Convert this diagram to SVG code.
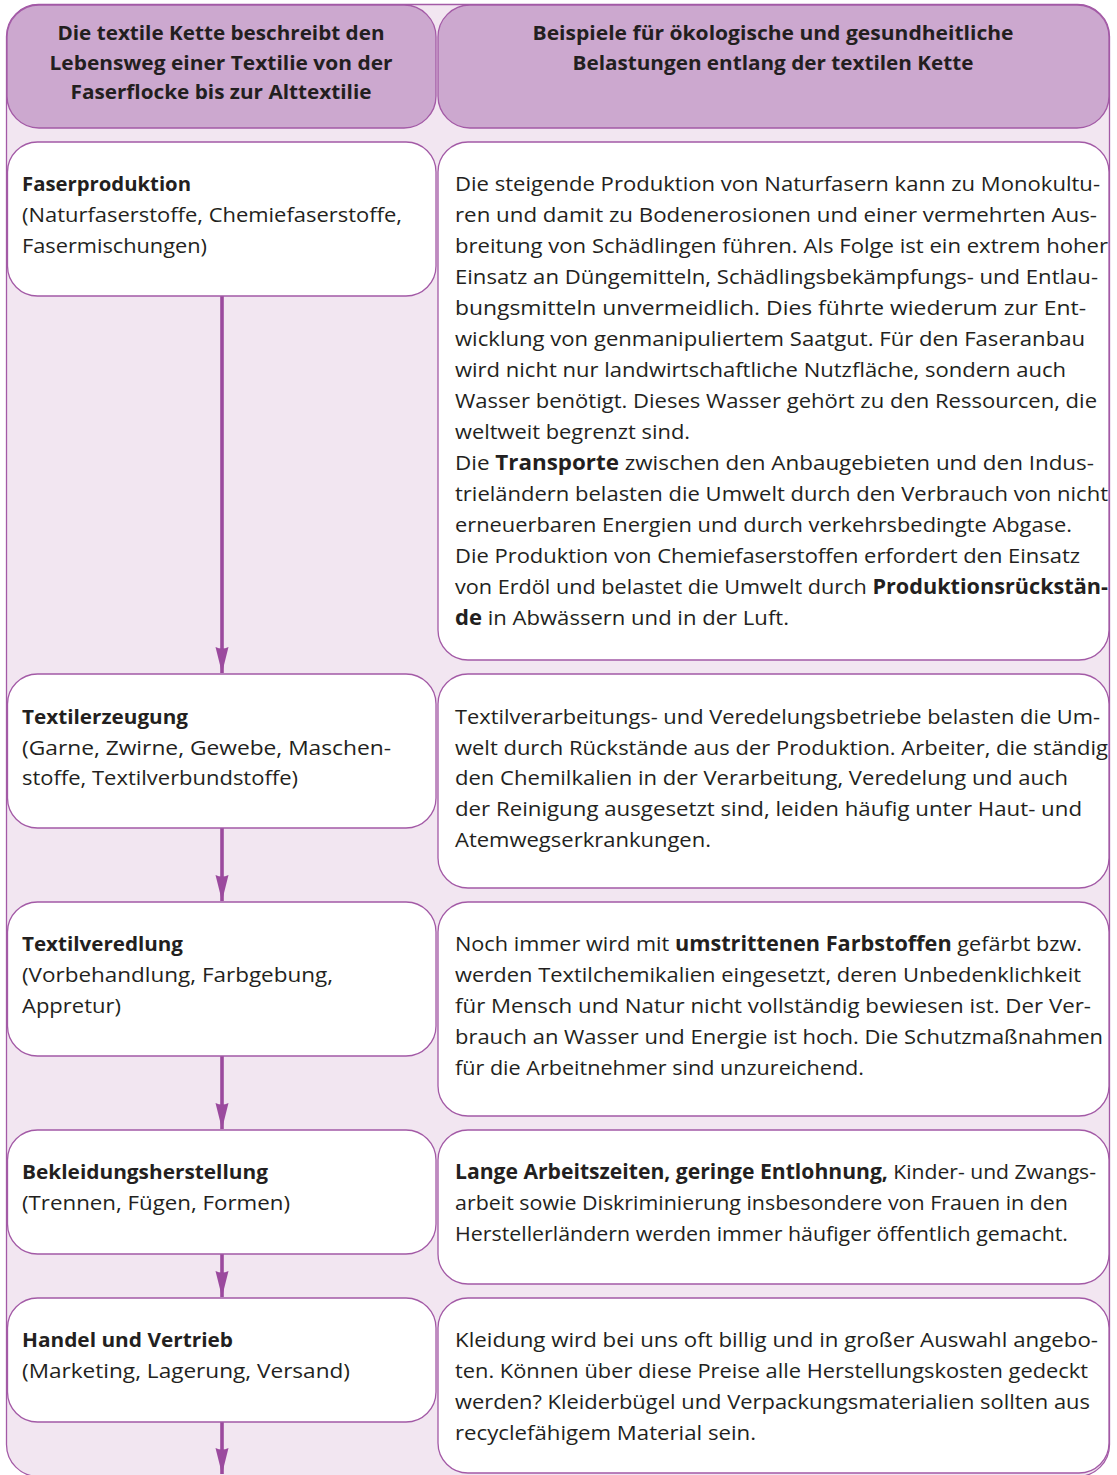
<svg xmlns="http://www.w3.org/2000/svg" width="1117" height="1475" viewBox="0 0 1117 1475">
<style>
.bg{fill:#f2e6f1;stroke:#a35aa6;stroke-width:1.3}
.hd{fill:#cca8cf;stroke:#a35aa6;stroke-width:1.3}
.bx{fill:#ffffff;stroke:#a35aa6;stroke-width:1.3}
text{font-family:"Open Sans","Noto Sans","Liberation Sans",sans-serif;fill:#231f20}
.h{font-size:20px;font-weight:bold;text-anchor:middle}
.l{font-size:20px}
.r{font-size:20.5px}
.b{font-weight:bold}
.arr{stroke:#9b4a9e;stroke-width:3.6;fill:none}
</style>
<defs>
<marker id="ah" markerUnits="userSpaceOnUse" markerWidth="28" markerHeight="16" viewBox="0 0 28 16" refX="27" refY="8" orient="auto">
<path d="M1,1.5 Q4,8 1,14.5 L27,8 Z" fill="#9b4a9e"/>
</marker>
</defs>
<rect class="bg" x="6.5" y="4.5" width="1103" height="1472" rx="32"/>

<g id="header-left">
<rect class="hd" x="7" y="5" width="429" height="123" rx="32"/>
<text class="h" x="221" y="40" textLength="327" lengthAdjust="spacingAndGlyphs">Die textile Kette beschreibt den</text>
<text class="h" x="221" y="70" textLength="343" lengthAdjust="spacingAndGlyphs">Lebensweg einer Textilie von der</text>
<text class="h" x="221" y="99" textLength="301" lengthAdjust="spacingAndGlyphs">Faserflocke bis zur Alttextilie</text>
</g>
<g id="header-right">
<rect class="hd" x="438" y="5" width="671" height="123" rx="32"/>
<text class="h" x="773" y="40" textLength="481" lengthAdjust="spacingAndGlyphs">Beispiele für ökologische und gesundheitliche</text>
<text class="h" x="773" y="70" textLength="401" lengthAdjust="spacingAndGlyphs">Belastungen entlang der textilen Kette</text>
</g>

<g id="connectors">
<line class="arr" x1="222" y1="296" x2="222" y2="673" marker-end="url(#ah)"/>
<line class="arr" x1="222" y1="828" x2="222" y2="901" marker-end="url(#ah)"/>
<line class="arr" x1="222" y1="1056" x2="222" y2="1129" marker-end="url(#ah)"/>
<line class="arr" x1="222" y1="1254" x2="222" y2="1297" marker-end="url(#ah)"/>
<line class="arr" x1="222" y1="1422" x2="222" y2="1474" marker-end="url(#ah)"/>
</g>

<g id="stage-faserproduktion">
<rect class="bx" x="7.5" y="142" width="428.5" height="154" rx="30"/>
<text class="l b" x="22" y="191" textLength="169" lengthAdjust="spacingAndGlyphs">Faserproduktion</text>
<text class="l" x="22" y="222" textLength="380" lengthAdjust="spacingAndGlyphs">(Naturfaserstoffe, Chemiefaserstoffe,</text>
<text class="l" x="22" y="253" textLength="185" lengthAdjust="spacingAndGlyphs">Fasermischungen)</text>
</g>
<g id="effects-faserproduktion">
<rect class="bx" x="438" y="142" width="671" height="518" rx="30"/>
<text class="r" x="455" y="191" textLength="645" lengthAdjust="spacingAndGlyphs">Die steigende Produktion von Naturfasern kann zu Monokultu-</text>
<text class="r" x="455" y="222" textLength="642" lengthAdjust="spacingAndGlyphs">ren und damit zu Bodenerosionen und einer vermehrten Aus-</text>
<text class="r" x="455" y="253" textLength="653" lengthAdjust="spacingAndGlyphs">breitung von Schädlingen führen. Als Folge ist ein extrem hoher</text>
<text class="r" x="455" y="284" textLength="643" lengthAdjust="spacingAndGlyphs">Einsatz an Düngemitteln, Schädlingsbekämpfungs- und Entlau-</text>
<text class="r" x="455" y="315" textLength="631" lengthAdjust="spacingAndGlyphs">bungsmitteln unvermeidlich. Dies führte wiederum zur Ent-</text>
<text class="r" x="455" y="346" textLength="630" lengthAdjust="spacingAndGlyphs">wicklung von genmanipuliertem Saatgut. Für den Faseranbau</text>
<text class="r" x="455" y="377" textLength="611" lengthAdjust="spacingAndGlyphs">wird nicht nur landwirtschaftliche Nutzfläche, sondern auch</text>
<text class="r" x="455" y="408" textLength="642" lengthAdjust="spacingAndGlyphs">Wasser benötigt. Dieses Wasser gehört zu den Ressourcen, die</text>
<text class="r" x="455" y="439" textLength="235" lengthAdjust="spacingAndGlyphs">weltweit begrenzt sind.</text>
<text class="r" x="455" y="470" textLength="639" lengthAdjust="spacingAndGlyphs">Die <tspan class="b">Transporte</tspan> zwischen den Anbaugebieten und den Indus-</text>
<text class="r" x="455" y="501" textLength="653" lengthAdjust="spacingAndGlyphs">trieländern belasten die Umwelt durch den Verbrauch von nicht</text>
<text class="r" x="455" y="532" textLength="617" lengthAdjust="spacingAndGlyphs">erneuerbaren Energien und durch verkehrsbedingte Abgase.</text>
<text class="r" x="455" y="563" textLength="625" lengthAdjust="spacingAndGlyphs">Die Produktion von Chemiefaserstoffen erfordert den Einsatz</text>
<text class="r" x="455" y="594" textLength="653" lengthAdjust="spacingAndGlyphs">von Erdöl und belastet die Umwelt durch <tspan class="b">Produktionsrückstän-</tspan></text>
<text class="r" x="455" y="625" textLength="334" lengthAdjust="spacingAndGlyphs"><tspan class="b">de</tspan> in Abwässern und in der Luft.</text>
</g>

<g id="stage-textilerzeugung">
<rect class="bx" x="7.5" y="674" width="428.5" height="154" rx="30"/>
<text class="l b" x="22" y="724" textLength="166" lengthAdjust="spacingAndGlyphs">Textilerzeugung</text>
<text class="l" x="22" y="755" textLength="369" lengthAdjust="spacingAndGlyphs">(Garne, Zwirne, Gewebe, Maschen-</text>
<text class="l" x="22" y="785" textLength="276" lengthAdjust="spacingAndGlyphs">stoffe, Textilverbundstoffe)</text>
</g>
<g id="effects-textilerzeugung">
<rect class="bx" x="438" y="674" width="671" height="214" rx="30"/>
<text class="r" x="455" y="724" textLength="645" lengthAdjust="spacingAndGlyphs">Textilverarbeitungs- und Veredelungsbetriebe belasten die Um-</text>
<text class="r" x="455" y="755" textLength="653" lengthAdjust="spacingAndGlyphs">welt durch Rückstände aus der Produktion. Arbeiter, die ständig</text>
<text class="r" x="455" y="785" textLength="613" lengthAdjust="spacingAndGlyphs">den Chemilkalien in der Verarbeitung, Veredelung und auch</text>
<text class="r" x="455" y="816" textLength="627" lengthAdjust="spacingAndGlyphs">der Reinigung ausgesetzt sind, leiden häufig unter Haut- und</text>
<text class="r" x="455" y="847" textLength="256" lengthAdjust="spacingAndGlyphs">Atemwegserkrankungen.</text>
</g>

<g id="stage-textilveredlung">
<rect class="bx" x="7.5" y="902" width="428.5" height="154" rx="30"/>
<text class="l b" x="22" y="951" textLength="161" lengthAdjust="spacingAndGlyphs">Textilveredlung</text>
<text class="l" x="22" y="982" textLength="311" lengthAdjust="spacingAndGlyphs">(Vorbehandlung, Farbgebung,</text>
<text class="l" x="22" y="1013" textLength="99" lengthAdjust="spacingAndGlyphs">Appretur)</text>
</g>
<g id="effects-textilveredlung">
<rect class="bx" x="438" y="902" width="671" height="214" rx="30"/>
<text class="r" x="455" y="951" textLength="627" lengthAdjust="spacingAndGlyphs">Noch immer wird mit <tspan class="b">umstrittenen Farbstoffen</tspan> gefärbt bzw.</text>
<text class="r" x="455" y="982" textLength="626" lengthAdjust="spacingAndGlyphs">werden Textilchemikalien eingesetzt, deren Unbedenklichkeit</text>
<text class="r" x="455" y="1013" textLength="636" lengthAdjust="spacingAndGlyphs">für Mensch und Natur nicht vollständig bewiesen ist. Der Ver-</text>
<text class="r" x="455" y="1044" textLength="648" lengthAdjust="spacingAndGlyphs">brauch an Wasser und Energie ist hoch. Die Schutzmaßnahmen</text>
<text class="r" x="455" y="1075" textLength="409" lengthAdjust="spacingAndGlyphs">für die Arbeitnehmer sind unzureichend.</text>
</g>

<g id="stage-bekleidungsherstellung">
<rect class="bx" x="7.5" y="1130" width="428.5" height="124" rx="30"/>
<text class="l b" x="22" y="1179" textLength="246" lengthAdjust="spacingAndGlyphs">Bekleidungsherstellung</text>
<text class="l" x="22" y="1210" textLength="268" lengthAdjust="spacingAndGlyphs">(Trennen, Fügen, Formen)</text>
</g>
<g id="effects-bekleidungsherstellung">
<rect class="bx" x="438" y="1130" width="671" height="154" rx="30"/>
<text class="r" x="455" y="1179" textLength="641" lengthAdjust="spacingAndGlyphs"><tspan class="b">Lange Arbeitszeiten, geringe Entlohnung,</tspan> Kinder- und Zwangs-</text>
<text class="r" x="455" y="1210" textLength="613" lengthAdjust="spacingAndGlyphs">arbeit sowie Diskriminierung insbesondere von Frauen in den</text>
<text class="r" x="455" y="1241" textLength="613" lengthAdjust="spacingAndGlyphs">Herstellerländern werden immer häufiger öffentlich gemacht.</text>
</g>

<g id="stage-handel">
<rect class="bx" x="7.5" y="1298" width="428.5" height="124" rx="30"/>
<text class="l b" x="22" y="1347" textLength="211" lengthAdjust="spacingAndGlyphs">Handel und Vertrieb</text>
<text class="l" x="22" y="1378" textLength="328" lengthAdjust="spacingAndGlyphs">(Marketing, Lagerung, Versand)</text>
</g>
<g id="effects-handel">
<rect class="bx" x="438" y="1298" width="671" height="175" rx="30"/>
<text class="r" x="455" y="1347" textLength="643" lengthAdjust="spacingAndGlyphs">Kleidung wird bei uns oft billig und in großer Auswahl angebo-</text>
<text class="r" x="455" y="1378" textLength="633" lengthAdjust="spacingAndGlyphs">ten. Können über diese Preise alle Herstellungskosten gedeckt</text>
<text class="r" x="455" y="1409" textLength="635" lengthAdjust="spacingAndGlyphs">werden? Kleiderbügel und Verpackungsmaterialien sollten aus</text>
<text class="r" x="455" y="1440" textLength="301" lengthAdjust="spacingAndGlyphs">recyclefähigem Material sein.</text>
</g>
</svg>
